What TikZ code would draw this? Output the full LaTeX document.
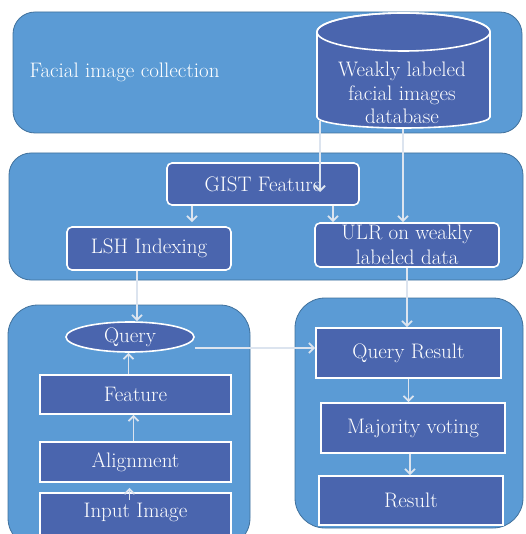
\documentclass[tikz,border=0pt]{standalone}
\usetikzlibrary{arrows.meta,positioning,calc,shapes.geometric}
\definecolor{panelblue}{HTML}{5B9BD5}
\definecolor{paneledge}{HTML}{41719C}
\definecolor{boxblue}{HTML}{4A65AE}
\definecolor{arrowgray}{HTML}{DCE4EF}
\begin{document}
\begin{tikzpicture}[x=1pt,y=-1pt,
  panel/.style={fill=panelblue, draw=paneledge, line width=0.8pt, rounded corners=22pt},
  box/.style={draw=white, line width=1.6pt, fill=boxblue, text=white,
    font=\fontsize{21}{24}\selectfont, inner sep=0pt, align=center},
  arr/.style={draw=arrowgray, line width=1.8pt, -{Straight Barb[length=5pt,width=10pt]}}]
  \useasboundingbox (0,0) rectangle (525,534);
  \clip (0,0) rectangle (525,534);
  % background panels
  \draw[panel] (13,12) rectangle (522,133);
  \draw[panel] (9,153) rectangle (523,280);
  \draw[panel, rounded corners=30pt] (8,305) rectangle (250,548);
  \draw[panel, rounded corners=30pt] (295,298) rectangle (523,528);
  \node[text=white, font=\fontsize{21}{24}\selectfont, anchor=west] (coll) at (26,72) {Facial image collection};
  % database cylinder
  \draw[fill=boxblue, draw=white, line width=1.6pt]
    (317,32) -- (317,117) arc[start angle=180, end angle=360, x radius=86.5pt, y radius=11pt]
    -- (490,32) arc[start angle=0, end angle=180, x radius=86.5pt, y radius=19pt] -- cycle;
  \draw[draw=white, line width=1.6pt] (403.5,32) ellipse[x radius=86.5pt, y radius=19pt];
  \node[text=white, font=\fontsize{21}{23.5}\selectfont, align=center] (db) at (402,93)
    {Weakly labeled\\facial images\\database};
  \coordinate (dbL) at (320,121);
  \coordinate (dbM) at (403,129);
  % feature extraction
  \node[box, rounded corners=5pt, minimum width=192pt, minimum height=42pt] (gist) at (263,184) {GIST Feature};
  \node[box, rounded corners=5pt, minimum width=164pt, minimum height=43pt] (lsh) at (149,248.5) {LSH Indexing};
  \node[box, rounded corners=5pt, minimum width=184pt, minimum height=44pt, font=\fontsize{21}{25}\selectfont] (ulr) at (407,245) {ULR on weakly\\labeled data};
  % query side
  \node[box, ellipse, minimum width=128pt, minimum height=30pt] (query) at (130,337) {Query};
  \node[box, minimum width=191pt, minimum height=39pt] (feat) at (135.5,394.5) {Feature};
  \node[box, minimum width=191pt, minimum height=40pt] (align) at (135.5,462) {Alignment};
  \node[box, minimum width=191pt, minimum height=44pt, text height=14pt, text depth=4pt] (input) at (135.5,515) {\raisebox{3pt}{Input Image}};
  % result side
  \node[box, minimum width=185pt, minimum height=50pt] (qres) at (408.5,353) {Query Result};
  \node[box, minimum width=184pt, minimum height=50pt] (major) at (413,428) {Majority voting};
  \node[box, minimum width=184pt, minimum height=49pt] (result) at (411,500.5) {Result};
  % connectors
  \draw[arr] (dbL) -- ([yshift=-8pt]dbL |- gist.center);
  \draw[arr] (dbM) -- (dbM |- ulr.north);
  \draw[arr] ([xshift=-71pt]gist.south) -- ([xshift=-71pt,yshift=4pt]gist.south |- lsh.north);
  \draw[arr] ([xshift=70pt]gist.south) -- ([xshift=70pt]gist.south |- ulr.north);
  \draw[arr] ([xshift=-12pt]lsh.south) -- ([xshift=-12pt]lsh.south |- query.north);
  \draw[arr] (ulr.south) -- (ulr.south |- qres.north);
  \draw[arr] ([yshift=-11pt]query.east) -- ([yshift=-11pt]query.east -| qres.west);
  \draw[arr] ([xshift=-7pt]feat.north) -- ([xshift=-7pt]feat.north |- query.south);
  \draw[arr] ([xshift=-2pt]align.north) -- ([xshift=-2pt]align.north |- feat.south);
  \draw[arr] ([xshift=-6pt,yshift=-8pt]input.north) -- ([xshift=-6pt,yshift=-5pt]input.north |- align.south);
  \draw[arr] (qres.south) -- (qres.south |- major.north);
  \draw[arr] ([xshift=-3pt]major.south) -- ([xshift=-3pt]major.south |- result.north);
\end{tikzpicture}
\end{document}
